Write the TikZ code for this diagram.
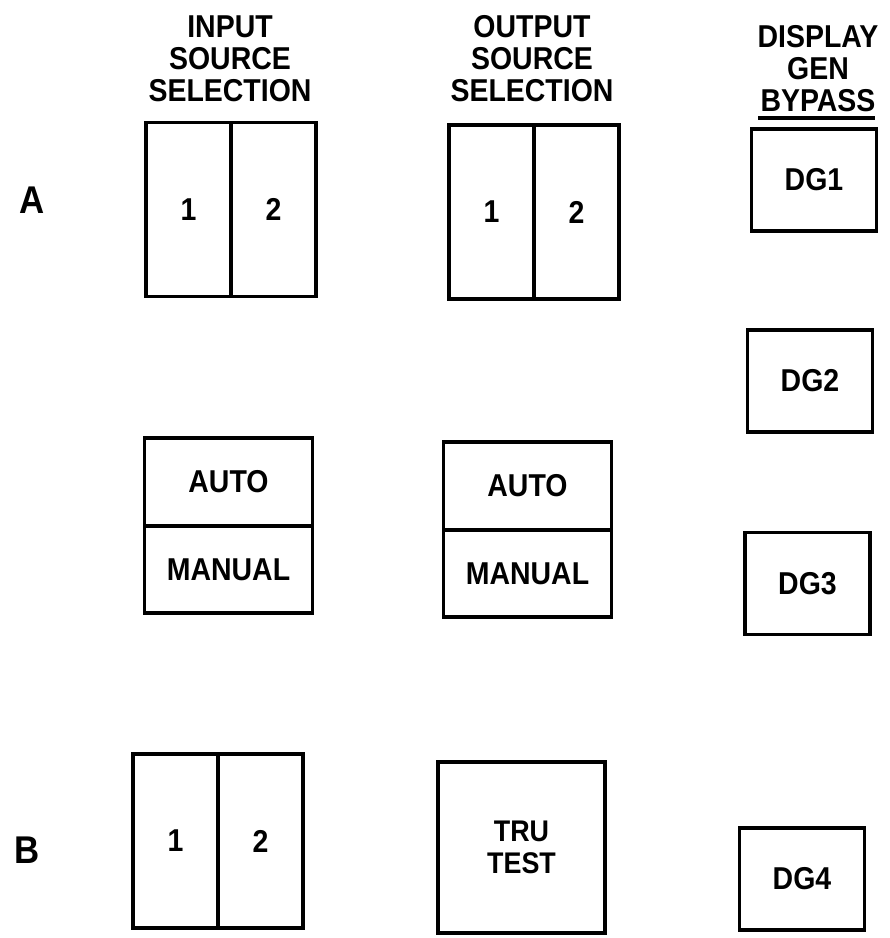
\documentclass[tikz,border=0pt]{standalone}
\usepackage{fontspec}
\setmainfont{Liberation Sans}
\newfontfamily\panelfont{Liberation Sans}[FakeStretch=0.9]
\usetikzlibrary{positioning}

\begin{document}
\begin{tikzpicture}[
        x=0.02cm, y=-0.02cm,
        node distance=0pt,
        panel/.style={rectangle, draw, line width=2.2pt, outer sep=0pt, inner sep=0pt, align=center, font=\panelfont\fontsize{18}{21}\selectfont\bfseries},
        keyhalf/.style={panel, minimum width=1.7cm, minimum height=3.48cm},
        modebox/.style={panel, minimum width=3.36cm, minimum height=1.75cm},
        dgbox/.style={panel, minimum width=2.5cm, minimum height=2.04cm},
        head/.style={anchor=north, align=center, inner sep=0pt, font=\panelfont\fontsize{18}{18.2}\selectfont\bfseries},
        rowlabel/.style={inner sep=0pt, font=\panelfont\fontsize{22}{22}\selectfont\bfseries}
    ]
        \useasboundingbox (0,0) rectangle (890,938);

        % column headings
        \node[head] (inhead) at (230,15) {INPUT\\SOURCE\\SELECTION};
        \node[head] (outhead) at (532,15) {OUTPUT\\SOURCE\\SELECTION};
        \node[head] (dghead) at (818,25) {DISPLAY\\GEN\\BYPASS};
        \draw[line width=2.2pt] ([xshift=-1.2cm,yshift=-0.12cm]dghead.south) -- ([xshift=1.14cm,yshift=-0.12cm]dghead.south);

        % row labels
        \node[rowlabel] (rowA) at (32,200) {A};
        \node[rowlabel] (rowB) at (27,850) {B};

        % row A
        \node[keyhalf] (inA1) at (188.5,209.5) {1};
        \node[keyhalf, right=of inA1] (inA2) {2};
        \node[keyhalf] (outA1) at (491.5,212) {1};
        \node[keyhalf, right=of outA1] (outA2) {2};

        % auto / manual
        \node[modebox] (inauto) at (228.5,482) {AUTO};
        \node[modebox, below=of inauto] (inmanual) {MANUAL};
        \node[modebox] (outauto) at (527.5,486) {AUTO};
        \node[modebox, below=of outauto] (outmanual) {MANUAL};

        % row B
        \node[keyhalf] (inB1) at (175.5,841) {1};
        \node[keyhalf, right=of inB1] (inB2) {2};
        \node[panel, minimum width=3.34cm, minimum height=3.42cm, font=\panelfont\fontsize{17}{18.5}\selectfont\bfseries] (trutest) at (521.5,847.5) {TRU\\TEST};

        % display generator bypass
        \node[dgbox] (dg1) at (814,180) {DG1};
        \node[dgbox] (dg2) at (810,381) {DG2};
        \node[dgbox] (dg3) at (807.5,583.5) {DG3};
        \node[dgbox] (dg4) at (802,879) {DG4};
    \end{tikzpicture}
\end{document}
